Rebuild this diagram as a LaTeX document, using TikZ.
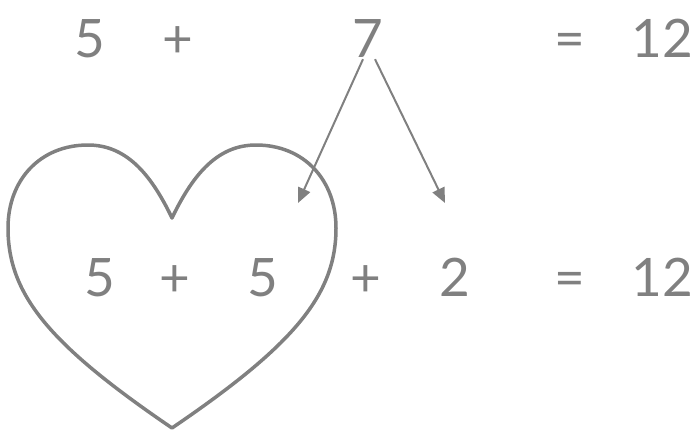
\documentclass[tikz,border=0pt]{standalone}
\usepackage{fontspec}
\setmainfont{Lato}
\usetikzlibrary{arrows.meta}
\definecolor{ink}{RGB}{128,128,128}
\begin{document}
\begin{tikzpicture}[x=1pt,y=-1pt,
  num/.style={anchor=base,inner sep=0pt,text=ink,font=\fontsize{53}{60}\selectfont},
  arr/.style={draw=ink,line width=2pt,-{Triangle[length=15pt,width=13pt]}},
  heart/.style={draw=ink,line width=3.5pt,line join=round}]
\useasboundingbox (0,0) rectangle (699,431);
% top row
\node[num] (t5) at (90,57) {5};
\node[num] (tp) at (178,57) {+};
\node[num] (t7) at (368,57) {7};
\node[num] (teq) at (570,57) {=};
\node[num] (t12) at (662,57) {12};
% bottom row
\node[num] (b5a) at (100,296) {5};
\node[num] (bp1) at (175,296) {+};
\node[num] (b5b) at (263,296) {5};
\node[num] (bp2) at (366,296) {+};
\node[num] (b2) at (455,296) {2};
\node[num] (beq) at (570,296) {=};
\node[num] (b12) at (662,296) {12};
% heart
\draw[heart] (172,218) .. controls (150,172) and (125,145) .. (88,145)
  .. controls (40,145) and (8,180) .. (8,228)
  .. controls (8,295) and (50,345) .. (172,428)
  .. controls (294,345) and (336,295) .. (336,228)
  .. controls (336,180) and (304,145) .. (256,145)
  .. controls (219,145) and (194,172) .. (172,218) -- cycle;
% arrows
\coordinate (c1) at (298,203);
\coordinate (c2) at (445,203);
\draw[arr] ([xshift=-5pt,yshift=-2pt]t7.south) -- (c1);
\draw[arr] ([xshift=7pt,yshift=-2pt]t7.south) -- (c2);
\end{tikzpicture}
\end{document}
